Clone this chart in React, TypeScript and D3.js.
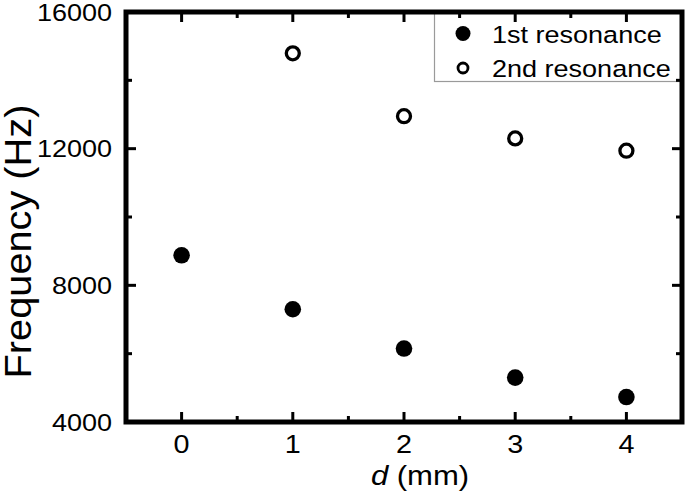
import React, { useEffect, useRef } from 'react';
import * as d3 from 'd3';

// d (mm) values and the two measured resonance frequencies (Hz)
const dValues = [0, 1, 2, 3, 4];
const firstResonance = [8880, 7300, 6150, 5300, 4730];
const secondD = [1, 2, 3, 4];
const secondResonance = [14790, 12950, 12300, 11940];

const xTicks = [0, 1, 2, 3, 4];
const xMinor = [0.5, 1.5, 2.5, 3.5];
const yTicks = [4000, 8000, 12000, 16000];
const yMinor = [6000, 10000, 14000];
const legendLabels = ['1st resonance', '2nd resonance'];

const FONT = '"Liberation Sans", Arial, Helvetica, sans-serif';
const STRETCH = 1.15;

const App = () => {
  const svgRef = useRef<SVGSVGElement>(null);

  useEffect(() => {
    const svg = d3.select(svgRef.current);
    svg.selectAll('*').remove();

    const width = 685;
    const height = 497;
    const margin = { top: 12, right: 3, bottom: 75, left: 126 };

    const x = d3.scaleLinear()
      .domain([-0.5, 4.5])
      .range([margin.left, width - margin.right]);

    const y = d3.scaleLinear()
      .domain([4000, 16000])
      .range([height - margin.bottom, margin.top]);

    const [x0, x1] = x.range();
    const [y0, y1] = y.range();

    // text helper, slightly stretched (source font runs wider than Arial)
    const label = (tx: number, ty: number, txt: string, size: number, anchor: string, sx = STRETCH) =>
      svg.append('text')
        .attr('transform', `translate(${tx},${ty}) scale(${sx},1)`)
        .attr('text-anchor', anchor)
        .style('font-family', FONT)
        .style('font-size', `${size}px`)
        .style('fill', '#000')
        .text(txt);

    // legend box
    svg.append('rect')
      .attr('x', 434.5)
      .attr('y', y1)
      .attr('width', x1 - 434.5)
      .attr('height', 69.5)
      .attr('fill', '#fff')
      .attr('stroke', '#9a9a9a')
      .attr('stroke-width', 1.2);

    // frame
    svg.append('rect')
      .attr('x', x0)
      .attr('y', y1)
      .attr('width', x1 - x0)
      .attr('height', y0 - y1)
      .attr('fill', 'none')
      .attr('stroke', 'black')
      .attr('stroke-width', 5);

    // ticks on all four sides, pointing inwards
    const ticks = svg.append('g')
      .attr('stroke', 'black')
      .attr('stroke-width', 3)
      .attr('fill', 'none');
    const major = 10;
    const minor = 6;
    const seg = (ax: number, ay: number, bx: number, by: number) =>
      ticks.append('path').attr('d', `M${ax},${ay}L${bx},${by}`);
    xTicks.forEach(v => { seg(x(v), y0, x(v), y0 - major); seg(x(v), y1, x(v), y1 + major); });
    xMinor.forEach(v => { seg(x(v), y0, x(v), y0 - minor); seg(x(v), y1, x(v), y1 + minor); });
    yTicks.forEach(v => { seg(x0, y(v), x0 + major, y(v)); seg(x1, y(v), x1 - major, y(v)); });
    yMinor.forEach(v => { seg(x0, y(v), x0 + minor, y(v)); seg(x1, y(v), x1 - minor, y(v)); });

    // tick labels
    xTicks.forEach(v => label(x(v), 453, String(v), 25, 'middle'));
    yTicks.forEach(v => label(112, y(v) + 8.5, String(v), 23.5, 'end'));

    // axis titles
    const xt = svg.append('text')
      .attr('transform', `translate(420,485) scale(${STRETCH},1)`)
      .attr('text-anchor', 'middle')
      .style('font-family', FONT)
      .style('font-size', '27px');
    xt.append('tspan').style('font-style', 'italic').text('d');
    xt.append('tspan').text(' (mm)');

    svg.append('text')
      .attr('transform', `translate(31,241.5) rotate(-90) scale(1.06,1)`)
      .attr('text-anchor', 'middle')
      .style('font-family', FONT)
      .style('font-size', '37.5px')
      .text('Frequency (Hz)');

    // data points
    svg.selectAll('.p1')
      .data(dValues)
      .enter().append('circle')
      .attr('class', 'p1')
      .attr('cx', d => x(d))
      .attr('cy', (d, i) => y(firstResonance[i]))
      .attr('r', 8.3)
      .attr('fill', '#000');

    svg.selectAll('.p2')
      .data(secondD)
      .enter().append('circle')
      .attr('class', 'p2')
      .attr('cx', d => x(d))
      .attr('cy', (d, i) => y(secondResonance[i]))
      .attr('r', 6.5)
      .attr('fill', '#fff')
      .attr('stroke', '#000')
      .attr('stroke-width', 3.3);

    // legend entries
    svg.append('circle').attr('cx', 463).attr('cy', 33.5).attr('r', 7.5).attr('fill', '#000');
    svg.append('circle').attr('cx', 463).attr('cy', 68).attr('r', 5).attr('fill', '#fff')
      .attr('stroke', '#000').attr('stroke-width', 2.8);
    label(492, 42.5, legendLabels[0], 23.5, 'start');
    label(492, 76.5, legendLabels[1], 23.5, 'start');
  }, []);

  return (
    <svg
      ref={svgRef}
      width={685}
      height={497}
      style={{ position: 'absolute', left: 0, top: 0, background: '#fff' }}
    />
  );
};

export default App;
